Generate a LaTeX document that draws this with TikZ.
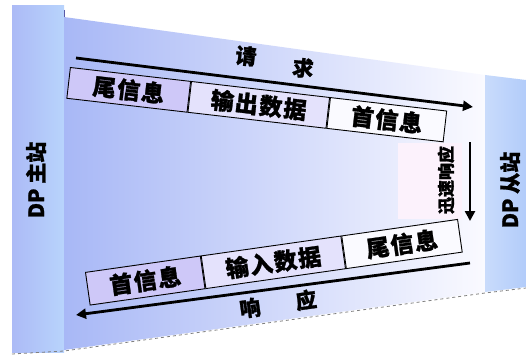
\documentclass[tikz,border=0pt]{standalone}
\usepackage{fontspec}
\newfontfamily\cjk{Noto Sans CJK SC}[BoldFeatures={FakeBold=1.2}]
\usetikzlibrary{arrows.meta}
\definecolor{panelL}{RGB}{172,186,246}
\definecolor{panelR}{RGB}{184,212,252}
\definecolor{mainL}{RGB}{168,184,246}
\definecolor{mainR}{RGB}{250,250,255}
\definecolor{sideR}{RGB}{178,204,250}
\definecolor{cellA}{RGB}{206,200,248}
\definecolor{cellB}{RGB}{228,226,252}
\definecolor{cellC}{RGB}{250,250,255}
\definecolor{pinkish}{RGB}{252,242,252}
\begin{document}
\begin{tikzpicture}[x=1pt,y=-1pt,
  cell/.style={draw=black, line width=0.9pt, minimum height=31pt, inner sep=0pt,
    font=\cjk\bfseries\fontsize{23}{23}\selectfont\addfontfeatures{LetterSpace=6}},
  flow/.style={line width=2.8pt, -{Triangle[length=10pt,width=10pt]}},
  lbl/.style={font=\cjk\bfseries\fontsize{21}{21}\selectfont},
  slbl/.style={font=\cjk\bfseries\fontsize{17}{17}\selectfont}]
\useasboundingbox (0,0) rectangle (526,358);
\fill[white] (0,0) rectangle (526,358);
% left panel
\shade[left color=panelL, right color=panelR] (12,6) rectangle (64,352);
\draw[gray!70!blue, line width=0.8pt] (64,10) -- (64,350);
% main panel
\shade[left color=mainL, right color=mainR] (64,17) -- (485,75) -- (485,292) -- (64,350) -- cycle;
\fill[pinkish] (398,143) rectangle (462,219);
% right panel
\shade[left color=sideR!70!white, right color=sideR] (485,75) -- (526,80) -- (526,287) -- (485,292) -- cycle;
% dashed bottom edge
\draw[gray, dashed, line width=0.8pt] (12,354) -- (64,351) -- (485,293) -- (526,288);
% top row of cells
\node[cell, rotate=-6.6, anchor=north west, minimum width=121pt, fill=cellA] (t1) at (70,67) {尾信息};
\node[cell, rotate=-6.6, anchor=north west, minimum width=139pt, fill=cellB] (t2) at (t1.north east) {输出数据};
\node[cell, rotate=-6.6, anchor=north west, minimum width=117pt, fill=cellC] (t3) at (t2.north east) {首信息};
% bottom row of cells
\node[cell, rotate=8.1, anchor=north west, minimum width=116pt, minimum height=33pt, fill=cellA] (b1) at (85,272) {首信息};
\node[cell, rotate=8.1, anchor=north west, minimum width=141pt, minimum height=33pt, fill=cellB] (b2) at (b1.north east) {输入数据};
\node[cell, rotate=8.1, anchor=north west, minimum width=117pt, minimum height=33pt, fill=cellC] (b3) at (b2.north east) {尾信息};
% arrows
\coordinate (rqs) at (76,58);
\coordinate (rqe) at (473,107);
\draw[flow] (rqs) -- (rqe);
\coordinate (vs) at (470,142);
\coordinate (ve) at (470,221);
\draw[flow] (vs) -- (ve);
\coordinate (rss) at (470,263);
\coordinate (rse) at (76,315);
\draw[flow] (rss) -- (rse);
% labels
\node[lbl, rotate=-6] (q1) at (246,56) {请};
\node[lbl, rotate=-6] (q2) at (303,68) {求};
\node[lbl, rotate=8] (r1) at (250,308) {响};
\node[lbl, rotate=8] (r2) at (306,300) {应};
\node[slbl, rotate=90] (fast) at (446,180) {迅速响应};
\node[lbl, rotate=90] (master) at (36,180) {DP 主站};
\node[lbl, rotate=90] (slave) at (510,190) {DP 从站};
\end{tikzpicture}
\end{document}
